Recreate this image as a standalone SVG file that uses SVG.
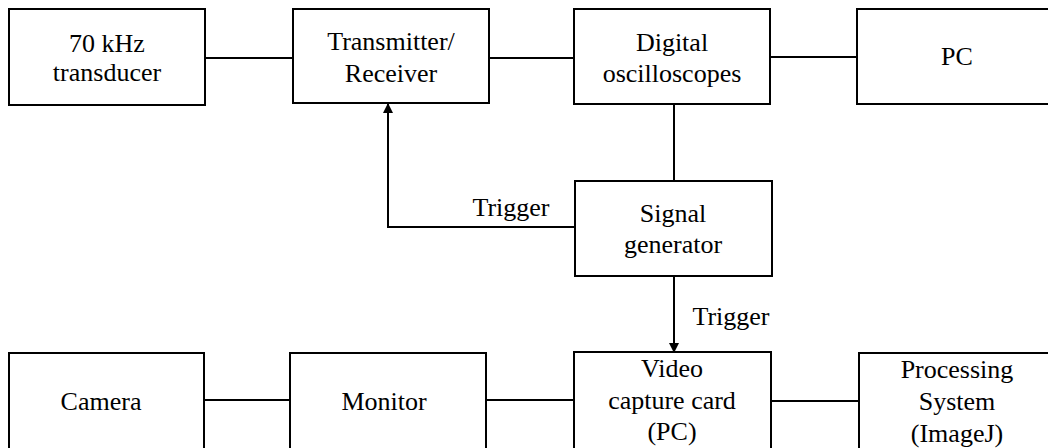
<svg xmlns="http://www.w3.org/2000/svg" width="1048" height="448" viewBox="0 0 1048 448">
<defs>
<style>
.box{fill:#fff;stroke:#000;stroke-width:2}
.t{font-family:"Liberation Serif","Times New Roman",serif;font-size:26px;fill:#000;text-anchor:middle}
.c{fill:none;stroke:#000;stroke-width:2}
</style>
<marker id="ah" viewBox="0 0 10 10" refX="9" refY="5" markerWidth="5" markerHeight="5" orient="auto" markerUnits="strokeWidth">
<path d="M0,0 L10,5 L0,10 z" fill="#000"/>
</marker>
</defs>
<rect width="1048" height="448" fill="#fff"/>
<g id="connectors">
<line class="c" x1="205" y1="58" x2="293" y2="58"/>
<line class="c" x1="489" y1="58" x2="574" y2="58"/>
<line class="c" x1="770" y1="57" x2="857" y2="57"/>
<line class="c" x1="674" y1="104" x2="674" y2="181"/>
<polyline class="c" points="575,227 388,227 388,104" marker-end="url(#ah)"/>
<line class="c" x1="674" y1="276" x2="674" y2="352" marker-end="url(#ah)"/>
<line class="c" x1="204" y1="400" x2="290" y2="400"/>
<line class="c" x1="486" y1="400" x2="574" y2="400"/>
<line class="c" x1="771" y1="401" x2="859" y2="401"/>
<text class="t" x="511" y="216">Trigger</text>
<text class="t" x="731" y="325">Trigger</text>
</g>
<g id="transducer">
<rect class="box" x="9" y="9" width="196" height="96"/>
<text class="t" x="107" y="52">70 kHz</text>
<text class="t" x="107" y="81">transducer</text>
</g>
<g id="transmitter">
<rect class="box" x="293" y="9" width="196" height="94"/>
<text class="t" x="391" y="50">Transmitter/</text>
<text class="t" x="391" y="82">Receiver</text>
</g>
<g id="oscilloscope">
<rect class="box" x="574" y="9" width="196" height="95"/>
<text class="t" x="672" y="51">Digital</text>
<text class="t" x="672" y="82">oscilloscopes</text>
</g>
<g id="pc">
<rect class="box" x="857" y="9" width="200" height="95"/>
<text class="t" x="957" y="65">PC</text>
</g>
<g id="signal-generator">
<rect class="box" x="575" y="181" width="197" height="95"/>
<text class="t" x="673" y="222">Signal</text>
<text class="t" x="673" y="253">generator</text>
</g>
<g id="camera">
<rect class="box" x="9" y="353" width="195" height="100"/>
<text class="t" x="101" y="410">Camera</text>
</g>
<g id="monitor">
<rect class="box" x="290" y="353" width="196" height="100"/>
<text class="t" x="384" y="410">Monitor</text>
</g>
<g id="video-capture">
<rect class="box" x="574" y="352" width="197" height="100"/>
<text class="t" x="672" y="377">Video</text>
<text class="t" x="672" y="409">capture card</text>
<text class="t" x="672" y="440">(PC)</text>
</g>
<g id="processing">
<rect class="box" x="859" y="353" width="200" height="100"/>
<text class="t" x="957" y="378">Processing</text>
<text class="t" x="957" y="410">System</text>
<text class="t" x="957" y="442">(ImageJ)</text>
</g>
</svg>
